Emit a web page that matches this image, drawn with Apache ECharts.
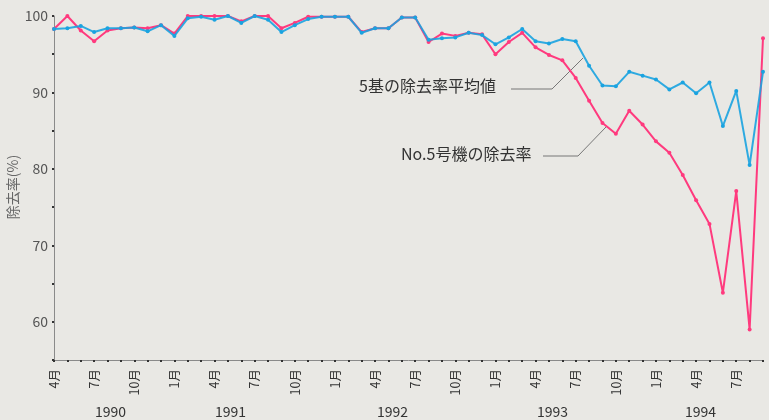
<!DOCTYPE html>
<html>
<head>
<meta charset="utf-8">
<script src="https://cdn.jsdelivr.net/npm/echarts@6/dist/echarts.min.js"></script>
<style>
html,body{margin:0;padding:0;background:#e9e8e4;}
#c{width:769px;height:420px;}
</style>
</head>
<body>
<div id="c"></div>
<script>
// Months from 1990/4 to 1994/9
const monthNums = [4,5,6,7,8,9,10,11,12,1,2,3, 4,5,6,7,8,9,10,11,12,1,2,3, 4,5,6,7,8,9,10,11,12,1,2,3, 4,5,6,7,8,9,10,11,12,1,2,3, 4,5,6,7,8,9];
const categories = monthNums.map(m => m + '月');
const yearLabels = ['1990','1991','1992','1993','1994'];

const avgRate = [98.3,98.4,98.7,97.9,98.4,98.4,98.5,98.0,98.8,97.4,99.7,99.9,99.5,100,99.1,100,99.5,97.9,98.8,99.6,99.9,99.9,99.9,97.8,98.4,98.4,99.8,99.8,96.9,97.1,97.2,97.8,97.5,96.3,97.2,98.3,96.7,96.4,97.0,96.7,93.5,90.9,90.8,92.7,92.2,91.7,90.4,91.3,89.9,91.3,85.6,90.2,80.5,92.7];
const no5Rate = [98.3,100,98.1,96.7,98.1,98.4,98.5,98.4,98.8,97.7,100,100,100,100,99.3,100,100,98.4,99.1,99.9,99.9,99.9,99.9,97.9,98.4,98.4,99.8,99.8,96.6,97.7,97.4,97.8,97.6,95.0,96.6,97.8,95.9,94.9,94.2,91.9,88.9,86.0,84.6,87.6,85.8,83.6,82.1,79.2,75.9,72.8,63.8,77.1,59.0,97.1];

const seriesNames = ['No.5号機の除去率','5基の除去率平均値'];
const yAxisName = '除去率(%)';

const chart = echarts.init(document.getElementById('c'));
const font = '"Noto Sans CJK JP", "Noto Sans", sans-serif';
const yearX = [113, 233, 395, 555, 703];

chart.setOption({
  backgroundColor: '#e9e8e4',
  animation: false,
  grid: {left: 54, right: 6, top: 16, bottom: 60, containLabel: false, outerBoundsMode: 'none'},
  xAxis: {
    type: 'category',
    data: categories,
    boundaryGap: false,
    axisLine: {lineStyle: {color: '#8a8a8a', width: 1}},
    axisTick: {show: true, interval: 0, length: 5, inside: false, lineStyle: {color: '#333', width: 2, type: [2, 3]}},
    axisLabel: {interval: 2, rotate: 90, fontSize: 12.5, color: '#333', fontFamily: font, margin: 9},
    splitLine: {show: false}
  },
  yAxis: {
    type: 'value',
    min: 55, max: 100, interval: 5,
    axisLine: {show: true, lineStyle: {color: '#8a8a8a', width: 1}},
    axisTick: {show: true, length: 4, lineStyle: {color: '#333', width: 2, type: [2, 2]}},
    axisLabel: {
      fontSize: 14, color: '#555', fontFamily: font, margin: 6,
      formatter: v => (v % 10 === 0 ? String(v) : '')
    },
    splitLine: {show: false}
  },
  series: [
    {
      name: seriesNames[0], type: 'line', data: no5Rate,
      symbol: 'circle', symbolSize: 4, showSymbol: true,
      itemStyle: {color: '#ff3a7e'},
      lineStyle: {color: '#ff3a7e', width: 2},
      z: 2
    },
    {
      name: seriesNames[1], type: 'line', data: avgRate,
      symbol: 'circle', symbolSize: 4, showSymbol: true,
      itemStyle: {color: '#1aa3e0'},
      lineStyle: {color: '#1aa3e0', width: 2, opacity: 0.9},
      z: 3
    }
  ],
  graphic: [
    {type: 'text', x: 13, y: 187, rotation: Math.PI / 2,
     style: {text: yAxisName, fontSize: 14, fill: '#666', fontFamily: font, align: 'center', verticalAlign: 'middle'}},
    ...yearLabels.map((y, i) => ({
      type: 'text', left: yearX[i] - 18, top: 405,
      style: {text: y, fontSize: 14, fill: '#333', fontFamily: font}
    })),
    {type: 'text', left: 359, top: 78, style: {text: seriesNames[1], fontSize: 16, fill: '#333', fontFamily: font}},
    {type: 'text', left: 401, top: 146, style: {text: seriesNames[0], fontSize: 16, fill: '#333', fontFamily: font}},
    {type: 'polyline', shape: {points: [[511,89],[552,89],[583,58]]}, style: {stroke: '#777', lineWidth: 1, fill: null}},
    {type: 'polyline', shape: {points: [[543,156],[578,156],[606,127]]}, style: {stroke: '#777', lineWidth: 1, fill: null}}
  ]
});
</script>
</body>
</html>
